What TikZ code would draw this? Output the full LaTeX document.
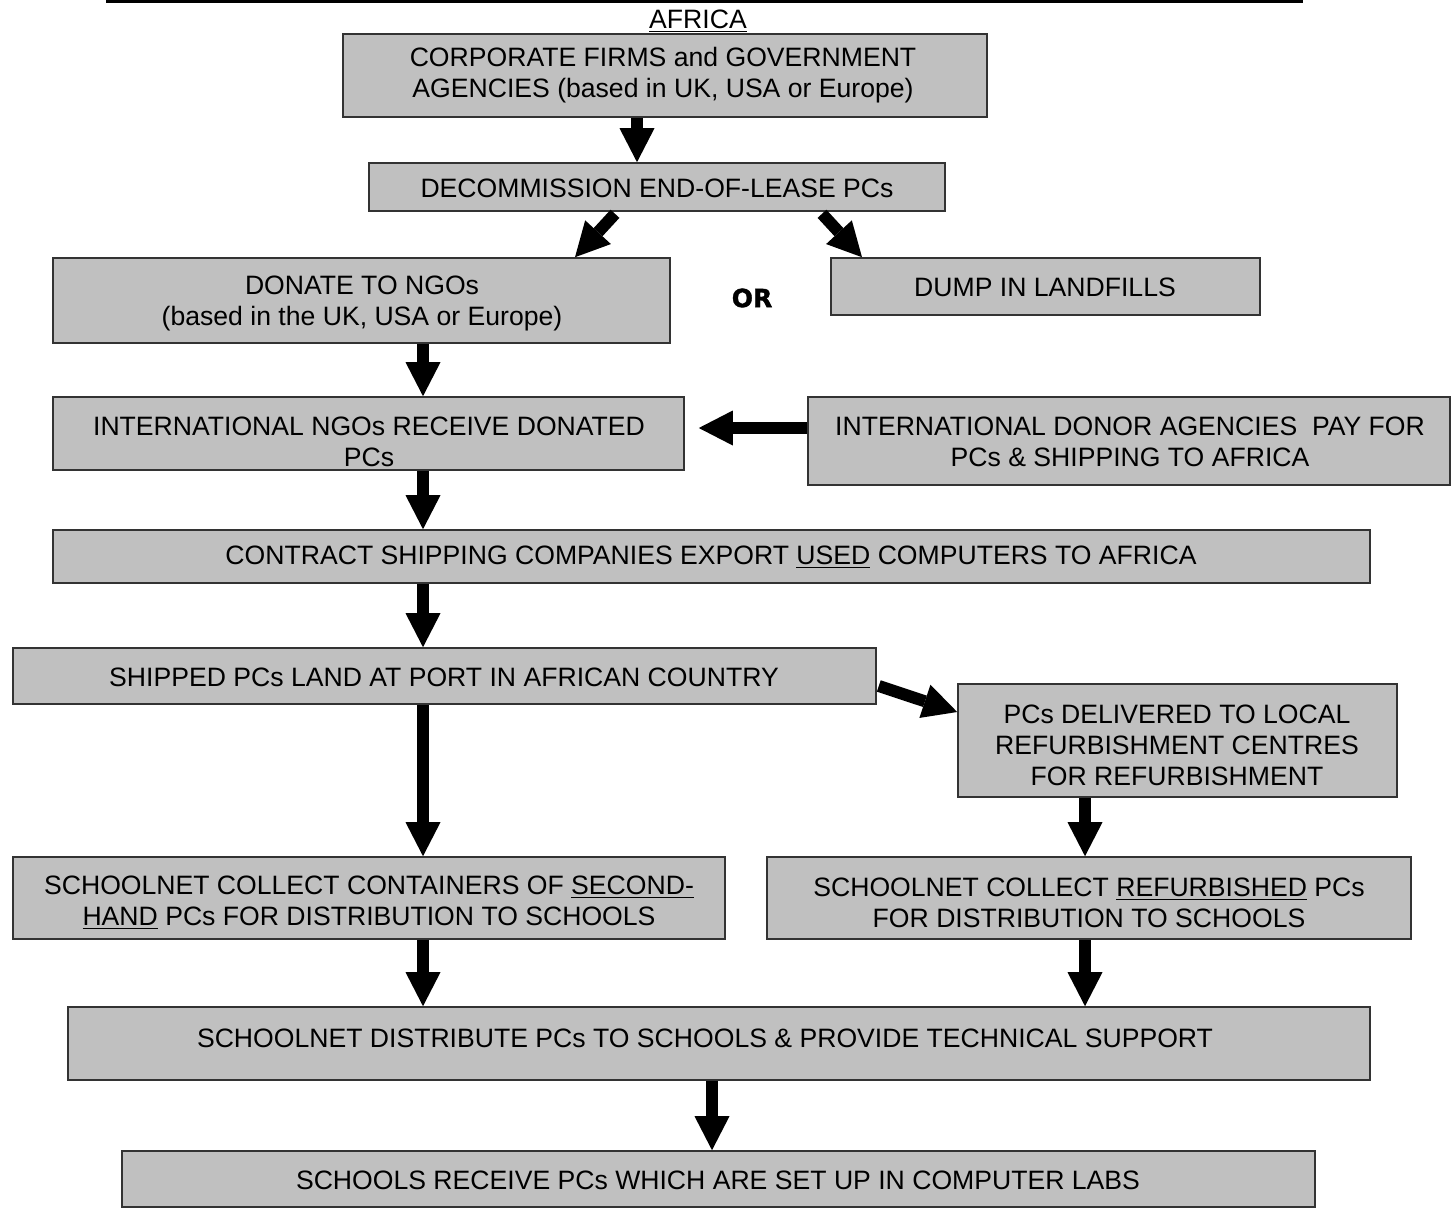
\documentclass[tikz,border=0pt]{standalone}
\usepackage{fontspec}
\setmainfont{Liberation Sans}
\newfontfamily\orfont[BoldFeatures={FakeBold=1.5}]{DejaVu Sans}
\usetikzlibrary{arrows.meta}
\definecolor{boxgray}{HTML}{C0C0C0}
\begin{document}
\begin{tikzpicture}[x=0.5pt,y=-0.5pt,
  box/.style={draw=black!80, line width=0.8pt, fill=boxgray, inner sep=0pt, rectangle},
  txt/.style={align=center, inner sep=0pt, font=\fontsize{13.3}{15.5}\selectfont},
  arr/.style={line width=6pt, black, -{Triangle[width=17.5pt,length=17pt,line width=0pt]}}
]
\useasboundingbox (0,0) rectangle (1451,1211);
\fill[white] (0,0) rectangle (1451,1211);

% top rule
\draw[line width=1.2pt] (106,1.5) -- (1303,1.5);

% boxes
\node[box, minimum width=322pt, minimum height=41.5pt] (b1) at (665,75.5) {};
\node[txt] (t1) at (663,75) {CORPORATE FIRMS and GOVERNMENT\\AGENCIES (based in UK, USA or Europe)};
\node[txt] (africa) at (698,21) {\underline{AFRICA}};

\node[box, minimum width=288pt, minimum height=24pt] (b2) at (657,187) {};
\node[txt] (t2) at (657,188) {DECOMMISSION END-OF-LEASE PCs};

\node[box, minimum width=308.5pt, minimum height=42.5pt] (b3) at (361.5,300.5) {};
\node[txt] (t3) at (362,303) {DONATE TO NGOs\\(based in the UK, USA or Europe)};

\node[box, minimum width=214.5pt, minimum height=28.5pt] (bdump) at (1045.5,286.5) {};
\node[txt] (tdump) at (1045,287) {DUMP IN LANDFILLS};

\node[font=\orfont\bfseries\fontsize{12.5}{14}\selectfont, inner sep=0pt] (or) at (752,298) {OR};

\node[box, minimum width=315.5pt, minimum height=36.5pt] (b4) at (368.5,433.5) {};
\node[txt] (t4) at (369,442) {INTERNATIONAL NGOs RECEIVE DONATED\\PCs};

\node[box, minimum width=321pt, minimum height=44pt] (b5) at (1129,441) {};
\node[txt] (t5) at (1130,442) {INTERNATIONAL DONOR AGENCIES\ \ PAY FOR\\PCs \& SHIPPING TO AFRICA};

\node[box, minimum width=658.5pt, minimum height=26.5pt] (b6) at (711.5,556.5) {};
\node[txt] (t6) at (711,557) {CONTRACT SHIPPING COMPANIES EXPORT \underline{USED} COMPUTERS TO AFRICA};

\node[box, minimum width=431.5pt, minimum height=28pt] (b7) at (444.5,676) {};
\node[txt] (t7) at (444,677) {SHIPPED PCs LAND AT PORT IN AFRICAN COUNTRY};

\node[box, minimum width=219.5pt, minimum height=56.5pt] (b8) at (1177.5,740.5) {};
\node[txt] (t8) at (1177,745) {PCs DELIVERED TO LOCAL\\REFURBISHMENT CENTRES\\FOR REFURBISHMENT};

\node[box, minimum width=356pt, minimum height=41pt] (b9) at (369,898) {};
\node[txt] (t9) at (369,903) {SCHOOLNET COLLECT CONTAINERS OF \underline{SECOND-}\\\underline{HAND} PCs FOR DISTRIBUTION TO SCHOOLS};

\node[box, minimum width=322pt, minimum height=41pt] (b10) at (1089,898) {};
\node[txt] (t10) at (1089,903) {SCHOOLNET COLLECT \underline{REFURBISHED} PCs\\FOR DISTRIBUTION TO SCHOOLS};

\node[box, minimum width=651pt, minimum height=36.5pt] (b11) at (719,1043.5) {};
\node[txt] (t11) at (705,1038) {SCHOOLNET DISTRIBUTE PCs TO SCHOOLS \& PROVIDE TECHNICAL SUPPORT};

\node[box, minimum width=596.5pt, minimum height=28pt] (b12) at (718.5,1179) {};
\node[txt] (t12) at (718,1180) {SCHOOLS RECEIVE PCs WHICH ARE SET UP IN COMPUTER LABS};

% arrows
\draw[arr] ([xshift=-14pt]b1.south) -- ([xshift=-10pt]b2.north);
\draw[arr] ([xshift=-21pt,yshift=-1pt]b2.south) -- ([xshift=106.75pt]b3.north);
\draw[arr] ([xshift=82.5pt,yshift=-1pt]b2.south) -- ([xshift=-91.75pt]bdump.north);
\draw[arr] ([xshift=30.75pt]b3.south) -- ([xshift=27.25pt]b4.north);
\draw[arr] ([yshift=6.5pt]b5.west) -- ([xshift=7pt,yshift=2.75pt]b4.east);
\draw[arr] ([xshift=27.25pt]b4.south) -- ([xshift=-144.25pt]b6.north);
\draw[arr] ([xshift=-144.25pt]b6.south) -- ([xshift=-10.75pt]b7.north);
\draw[arr] ([xshift=1pt,yshift=-5pt]b7.east) -- ([yshift=14.25pt]b8.west);
\draw[arr] ([xshift=-10.75pt]b7.south) -- ([xshift=27pt]b9.north);
\draw[arr] ([xshift=-46.25pt]b8.south) -- ([xshift=-2pt]b10.north);
\draw[arr] ([xshift=27pt]b9.south) -- ([xshift=-148pt]b11.north);
\draw[arr] ([xshift=-2pt]b10.south) -- ([xshift=183pt]b11.north);
\draw[arr] ([xshift=-3.5pt]b11.south) -- ([xshift=-3.25pt]b12.north);
\end{tikzpicture}
\end{document}
